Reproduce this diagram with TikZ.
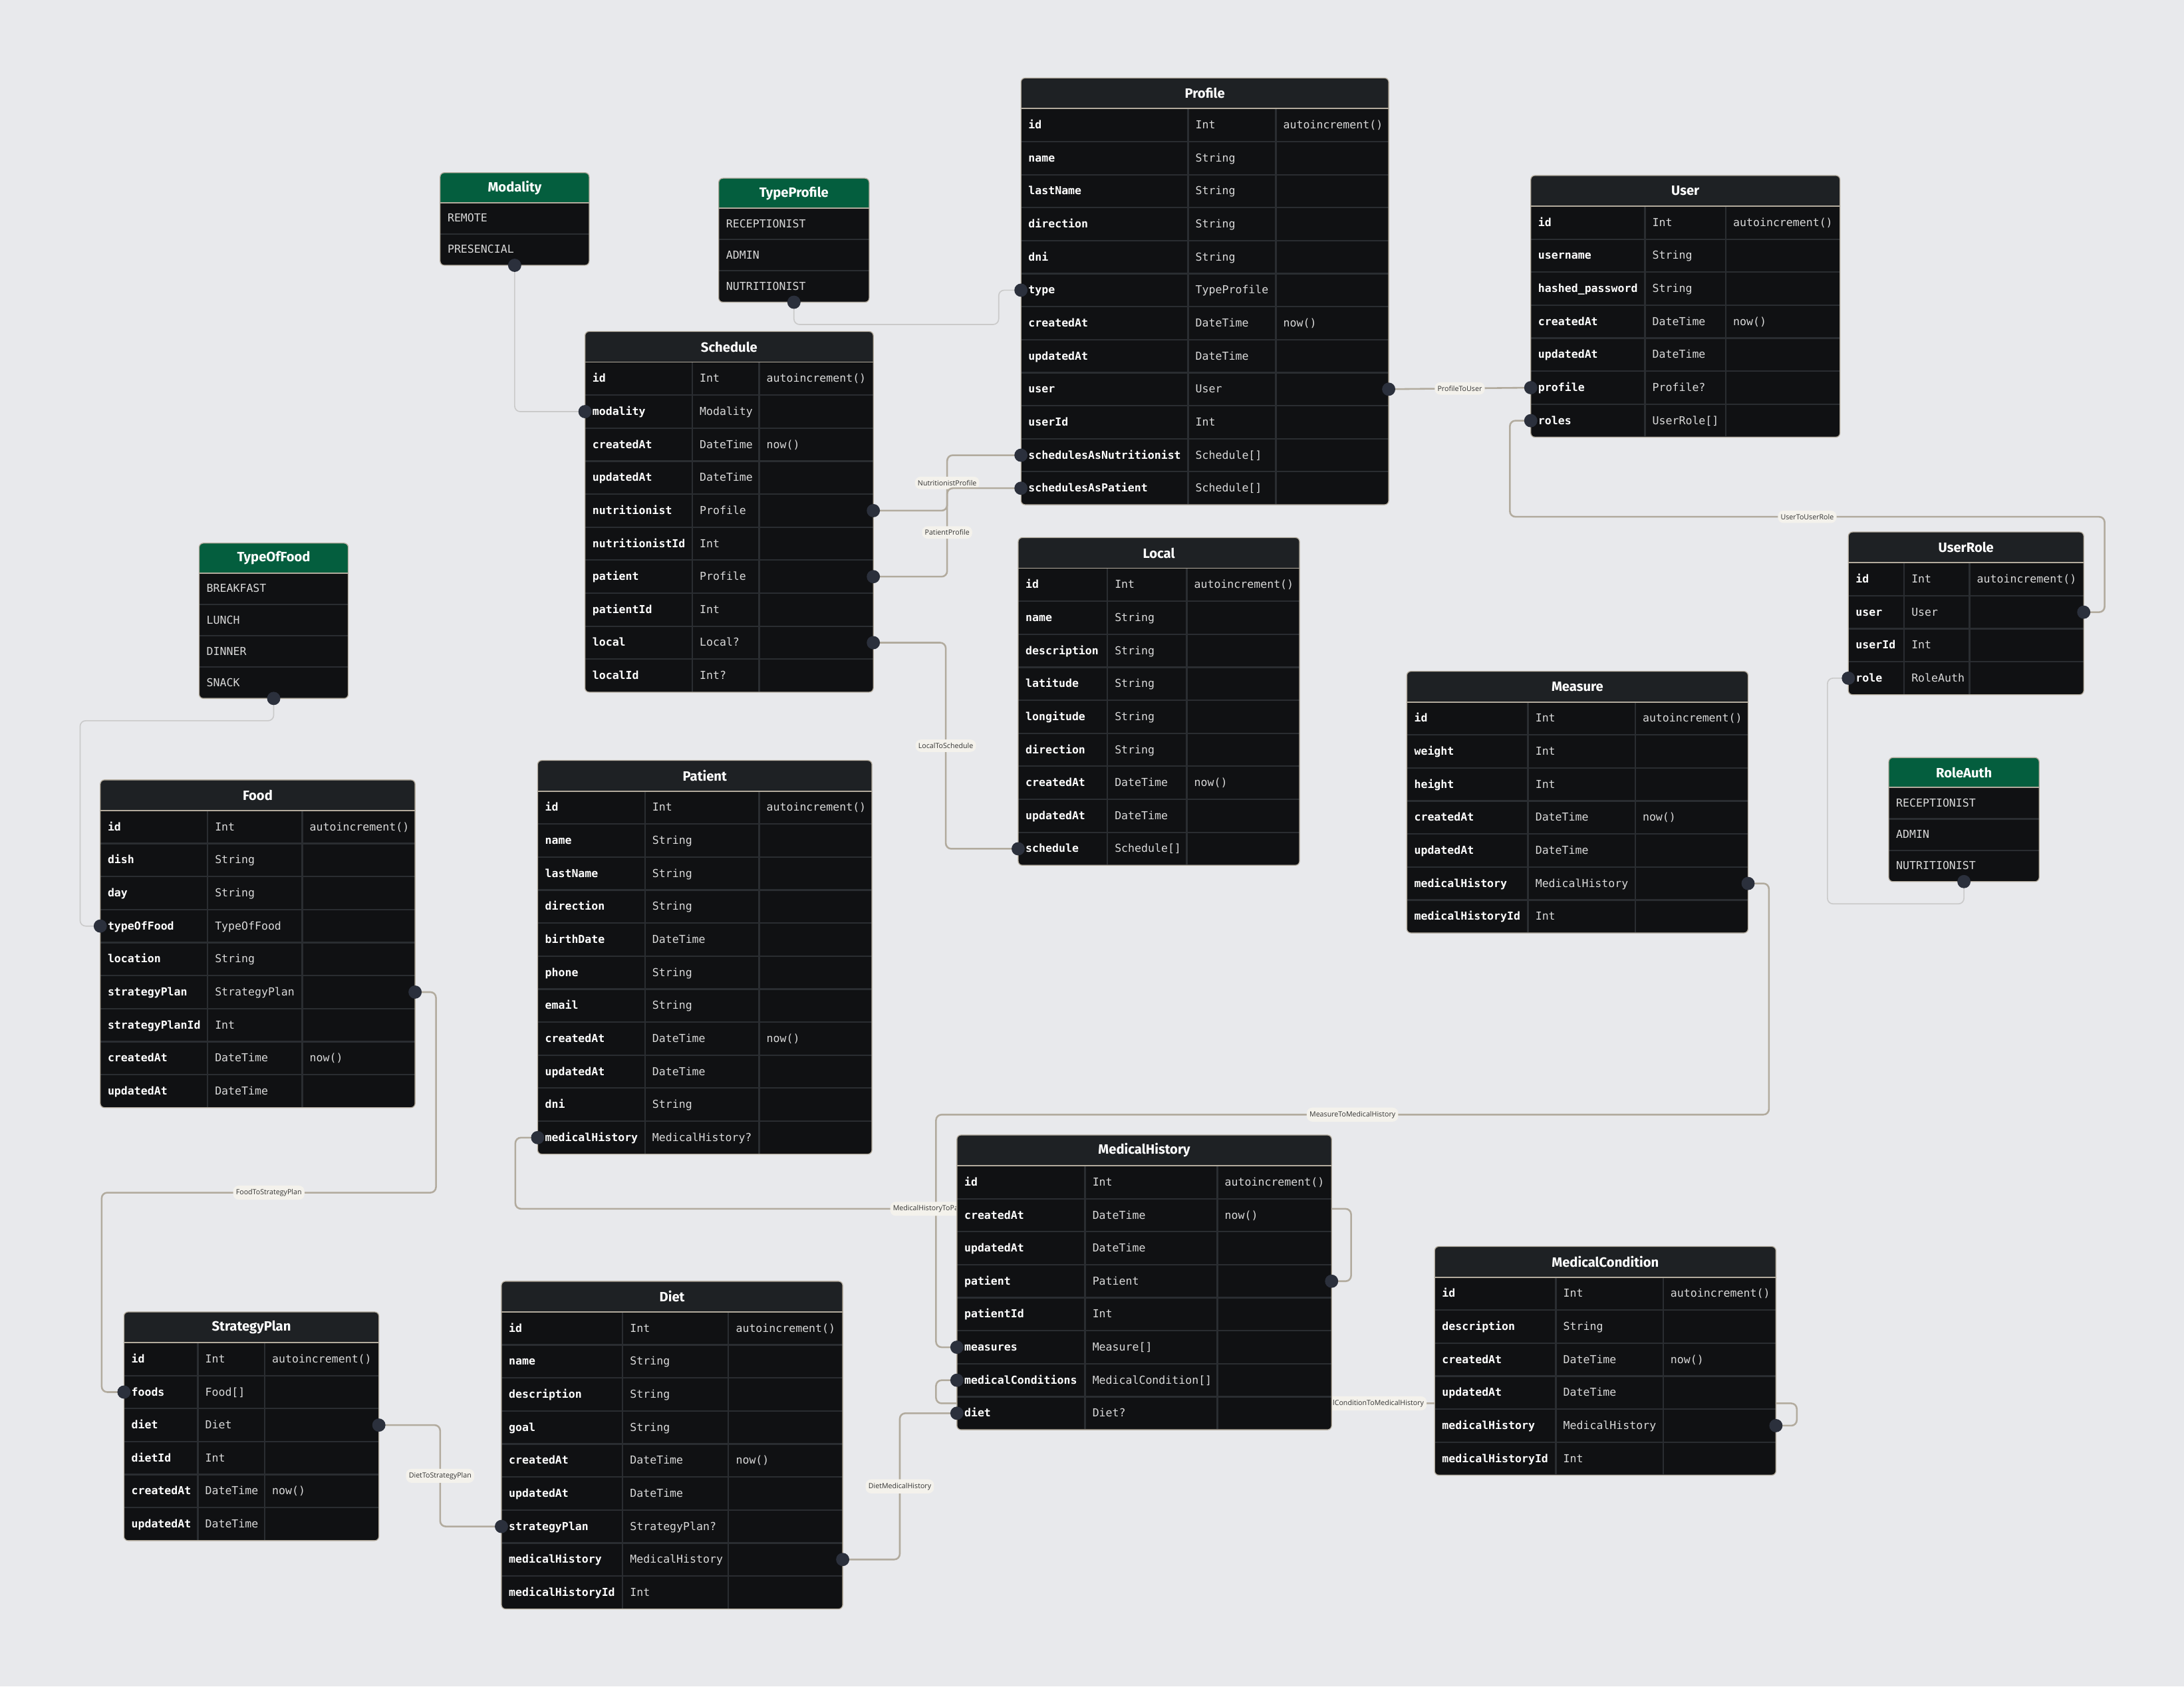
\documentclass[tikz,border=0pt]{standalone}
\usepackage{fontspec}
\setmainfont{Fira Sans}
\setmonofont{DejaVu Sans Mono}
\newfontfamily\linkfont{Open Sans}
\usepackage{tikz}
\usetikzlibrary{backgrounds,calc}

\definecolor{canvas}{HTML}{E8E9EC}
\definecolor{tbody}{HTML}{101113}
\definecolor{thead}{HTML}{1E2124}
\definecolor{tgrid}{HTML}{2A2D31}
\definecolor{tedge}{HTML}{B3AB9D}
\definecolor{enumhead}{HTML}{045E3E}
\definecolor{linkline}{HTML}{B2AB9E}
\definecolor{enumline}{HTML}{CACACA}
\definecolor{dotfill}{HTML}{2B303C}
\definecolor{linkbg}{HTML}{F4F2EC}

\pgfdeclarelayer{bg}
\pgfdeclarelayer{links}
\pgfsetlayers{bg,links,main}

\tikzset{
  ttitle/.style={text=white, font=\bfseries\fontsize{5.5}{6.5}\selectfont},
  fname/.style={anchor=west, inner xsep=0.1cm, inner ysep=0pt, text=white,
    font=\ttfamily\bfseries\fontsize{4.5}{5.4}\selectfont, text height=0.6em, text depth=0.3em},
  ftype/.style={fname, font=\ttfamily\fontsize{4.5}{5.4}\selectfont, text=white!85!black},
  rowsep/.style={draw=tgrid, line width=0.6pt},
  link/.style={draw=linkline, line width=0.7pt, rounded corners=0.08cm},
  enumlink/.style={draw=enumline, line width=0.45pt, rounded corners=0.08cm},
  linklabel/.style={fill=linkbg, text=black!80, font=\linkfont\fontsize{2.9}{3.5}\selectfont,
    inner xsep=0.04cm, inner ysep=0.05cm},
  dot/.style={fill=dotfill},
}

% table: name, title, x0, col1, col2, x1, top, rows, fields
\newcommand{\ertable}[9]{%
  \pgfmathsetmacro{\tbot}{#7+22+#8*23.7}
  \fill[tbody, rounded corners=0.06cm] (#3,#7) rectangle (#6,\tbot);
  \begin{scope}
    \clip[rounded corners=0.06cm] (#3,#7) rectangle (#6,\tbot);
    \fill[thead] (#3,#7) rectangle (#6,#7+22);
    \draw[rowsep] (#4,#7+22) -- (#4,\tbot) (#5,#7+22) -- (#5,\tbot);
    \foreach \fld/\typ/\dflt [count=\rowi] in {#9} {
      \pgfmathsetmacro{\rowy}{#7+22+(\rowi-0.5)*23.7}
      \coordinate (#1-\rowi-w) at (#3,\rowy);
      \coordinate (#1-\rowi-e) at (#6,\rowy);
      \node[fname] (#1-\rowi-f) at (#3,\rowy) {\fld};
      \node[ftype] (#1-\rowi-t) at (#4,\rowy) {\typ};
      \node[ftype] (#1-\rowi-d) at (#5,\rowy) {\dflt};
      \draw[rowsep] (#3,\rowy+11.85) -- (#6,\rowy+11.85);
    }
  \end{scope}
  \draw[tedge, line width=0.5pt] (#3,#7+22) -- (#6,#7+22);
  \draw[tedge, line width=0.35pt, rounded corners=0.06cm] (#3,#7) rectangle (#6,\tbot);
  \node[ttitle] (#1) at ({(#3+#6)/2},#7+11) {#2};
}

% enum: name, title, x0, x1, top, rows, values
\newcommand{\erenum}[7]{%
  \pgfmathsetmacro{\tbot}{#5+21.5+#6*22.5}
  \fill[tbody, rounded corners=0.06cm] (#3,#5) rectangle (#4,\tbot);
  \begin{scope}
    \clip[rounded corners=0.06cm] (#3,#5) rectangle (#4,\tbot);
    \fill[enumhead] (#3,#5) rectangle (#4,#5+21.5);
    \foreach \val [count=\rowi] in {#7} {
      \pgfmathsetmacro{\rowy}{#5+21.5+(\rowi-0.5)*22.5}
      \node[ftype] (#1-\rowi) at (#3,\rowy) {\val};
      \draw[rowsep] (#3,\rowy+11.25) -- (#4,\rowy+11.25);
    }
  \end{scope}
  \draw[tedge, line width=0.5pt] (#3,#5+21.5) -- (#4,#5+21.5);
  \draw[tedge, line width=0.35pt, rounded corners=0.06cm] (#3,#5) rectangle (#4,\tbot);
  \node[ttitle] (#1) at ({(#3+#4)/2},#5+10.75) {#2};
  \coordinate (#1-s) at ({(#3+#4)/2},\tbot);
}

\begin{document}
\begin{tikzpicture}[x=0.02cm,y=-0.02cm]
%
\useasboundingbox (0,0) rectangle (1568,1211);
\begin{pgfonlayer}{bg}
\fill[canvas] (0,0) rectangle (1568,1211);
\end{pgfonlayer}
%
\erenum{modality}{Modality}{316}{423}{124}{2}{REMOTE,PRESENCIAL}
\erenum{typeprofile}{TypeProfile}{516}{624}{128}{3}{RECEPTIONIST,ADMIN,NUTRITIONIST}
\erenum{typeoffood}{TypeOfFood}{143}{250}{390}{4}{BREAKFAST,LUNCH,DINNER,SNACK}
\erenum{roleauth}{RoleAuth}{1356}{1464}{544}{3}{RECEPTIONIST,ADMIN,NUTRITIONIST}
%
\ertable{profile}{Profile}{733}{853}{916}{997}{56}{12}{id/Int/autoincrement(), name/String/{}, lastName/String/{},
  direction/String/{}, dni/String/{}, type/TypeProfile/{}, createdAt/DateTime/now(), updatedAt/DateTime/{},
  user/User/{}, userId/Int/{}, schedulesAsNutritionist/Schedule[]/{}, schedulesAsPatient/Schedule[]/{}}
\ertable{user}{User}{1099}{1181}{1239}{1321}{126}{7}{id/Int/autoincrement(), username/String/{},
  hashed\_password/String/{}, createdAt/DateTime/now(), updatedAt/DateTime/{}, profile/Profile?/{}, roles/UserRole[]/{}}
\ertable{schedule}{Schedule}{420}{497}{545}{627}{238}{10}{id/Int/autoincrement(), modality/Modality/{},
  createdAt/DateTime/now(), updatedAt/DateTime/{}, nutritionist/Profile/{}, nutritionistId/Int/{},
  patient/Profile/{}, patientId/Int/{}, local/Local?/{}, localId/Int?/{}}
\ertable{userrole}{UserRole}{1327}{1367}{1414}{1496}{382}{4}{id/Int/autoincrement(), user/User/{},
  userId/Int/{}, role/RoleAuth/{}}
\ertable{local}{Local}{731}{795}{852}{933}{386}{9}{id/Int/autoincrement(), name/String/{},
  description/String/{}, latitude/String/{}, longitude/String/{}, direction/String/{},
  createdAt/DateTime/now(), updatedAt/DateTime/{}, schedule/Schedule[]/{}}
\ertable{measure}{Measure}{1010}{1097}{1174}{1255}{482}{7}{id/Int/autoincrement(), weight/Int/{},
  height/Int/{}, createdAt/DateTime/now(), updatedAt/DateTime/{}, medicalHistory/MedicalHistory/{},
  medicalHistoryId/Int/{}}
\ertable{food}{Food}{72}{149}{217}{298}{560}{9}{id/Int/autoincrement(), dish/String/{}, day/String/{},
  typeOfFood/TypeOfFood/{}, location/String/{}, strategyPlan/StrategyPlan/{}, strategyPlanId/Int/{},
  createdAt/DateTime/now(), updatedAt/DateTime/{}}
\ertable{patient}{Patient}{386}{463}{545}{626}{546}{11}{id/Int/autoincrement(), name/String/{},
  lastName/String/{}, direction/String/{}, birthDate/DateTime/{}, phone/String/{}, email/String/{},
  createdAt/DateTime/now(), updatedAt/DateTime/{}, dni/String/{}, medicalHistory/MedicalHistory?/{}}
\ertable{medhist}{MedicalHistory}{687}{779}{874}{956}{815}{8}{id/Int/autoincrement(),
  createdAt/DateTime/now(), updatedAt/DateTime/{}, patient/Patient/{}, patientId/Int/{},
  measures/Measure[]/{}, medicalConditions/MedicalCondition[]/{}, diet/Diet?/{}}
\ertable{medcond}{MedicalCondition}{1030}{1117}{1194}{1275}{895}{6}{id/Int/autoincrement(),
  description/String/{}, createdAt/DateTime/now(), updatedAt/DateTime/{},
  medicalHistory/MedicalHistory/{}, medicalHistoryId/Int/{}}
\ertable{strategy}{StrategyPlan}{89}{142}{190}{272}{942}{6}{id/Int/autoincrement(), foods/Food[]/{},
  diet/Diet/{}, dietId/Int/{}, createdAt/DateTime/now(), updatedAt/DateTime/{}}
\ertable{diet}{Diet}{360}{447}{523}{605}{920}{9}{id/Int/autoincrement(), name/String/{},
  description/String/{}, goal/String/{}, createdAt/DateTime/now(), updatedAt/DateTime/{},
  strategyPlan/StrategyPlan?/{}, medicalHistory/MedicalHistory/{}, medicalHistoryId/Int/{}}
%
\begin{pgfonlayer}{links}
% enum links
\draw[enumlink] (modality-s) |- (schedule-2-w);
\draw[enumlink] (typeprofile-s) -- ++(0,16) -- ++(147,0) |- (profile-6-w);
\draw[enumlink] (roleauth-s) -- ++(0,16) -- ++(-98,0) |- (userrole-4-w);
\draw[enumlink] (typeoffood-s) -- ++(0,16) -- ++(-139,0) |- (food-4-w);
% relations
\draw[link] (schedule-5-e) -- ++(53,0) |- node[linklabel,pos=0.25] (lbl-nutr) {NutritionistProfile} (profile-11-w);
\draw[link] (schedule-7-e) -- ++(53,0) |- node[linklabel,pos=0.25] (lbl-pat) {PatientProfile} (profile-12-w);
\draw[link] (schedule-9-e) -- ++(52,0) |- node[linklabel,pos=0.25] (lbl-local) {LocalToSchedule} (local-9-w);
\draw[link] (profile-9-e) -- node[linklabel] (lbl-user) {ProfileToUser} (user-6-w);
\draw[link] (user-7-w) -- ++(-15,0) -- ++(0,69) -- node[linklabel] (lbl-role) {UserToUserRole} ++(427,0) |- (userrole-2-e);
\draw[link] (measure-6-e) -- ++(15,0) -- ++(0,166) -- node[linklabel] (lbl-meas) {MeasureToMedicalHistory} ++(-598,0) |- (medhist-6-w);
\draw[link] (medcond-5-e) -- ++(15,0) -- ++(0,-16) -- node[linklabel] (lbl-cond) {MedicalConditionToMedicalHistory} ++(-618,0) |- (medhist-7-w);
\draw[link] (medhist-4-e) -- ++(14,0) -- ++(0,-52) -- node[linklabel] (lbl-mhp) {MedicalHistoryToPatient} ++(-600,0) |- (patient-11-w);
\draw[link] (diet-8-e) -- ++(41,0) |- node[linklabel,pos=0.25] (lbl-dmh) {DietMedicalHistory} (medhist-8-w);
\draw[link] (strategy-3-e) -- ++(44,0) |- node[linklabel,pos=0.25] (lbl-dsp) {DietToStrategyPlan} (diet-7-w);
\draw[link] (food-6-e) -- ++(15,0) -- ++(0,144) -- node[linklabel] (lbl-fsp) {FoodToStrategyPlan} ++(-240,0) |- (strategy-2-w);
\end{pgfonlayer}
%
\foreach \p in {modality-s, schedule-2-w, typeprofile-s, profile-6-w, roleauth-s, userrole-4-w,
  typeoffood-s, food-4-w, schedule-5-e, profile-11-w, schedule-7-e, profile-12-w, schedule-9-e,
  local-9-w, profile-9-e, user-6-w, user-7-w, userrole-2-e, measure-6-e, medhist-6-w, medcond-5-e,
  medhist-7-w, medhist-4-e, patient-11-w, diet-8-e, medhist-8-w, strategy-3-e, diet-7-w,
  food-6-e, strategy-2-w}
  \fill[dot] (\p) circle[radius=0.095cm];
%
\end{tikzpicture}
\end{document}
